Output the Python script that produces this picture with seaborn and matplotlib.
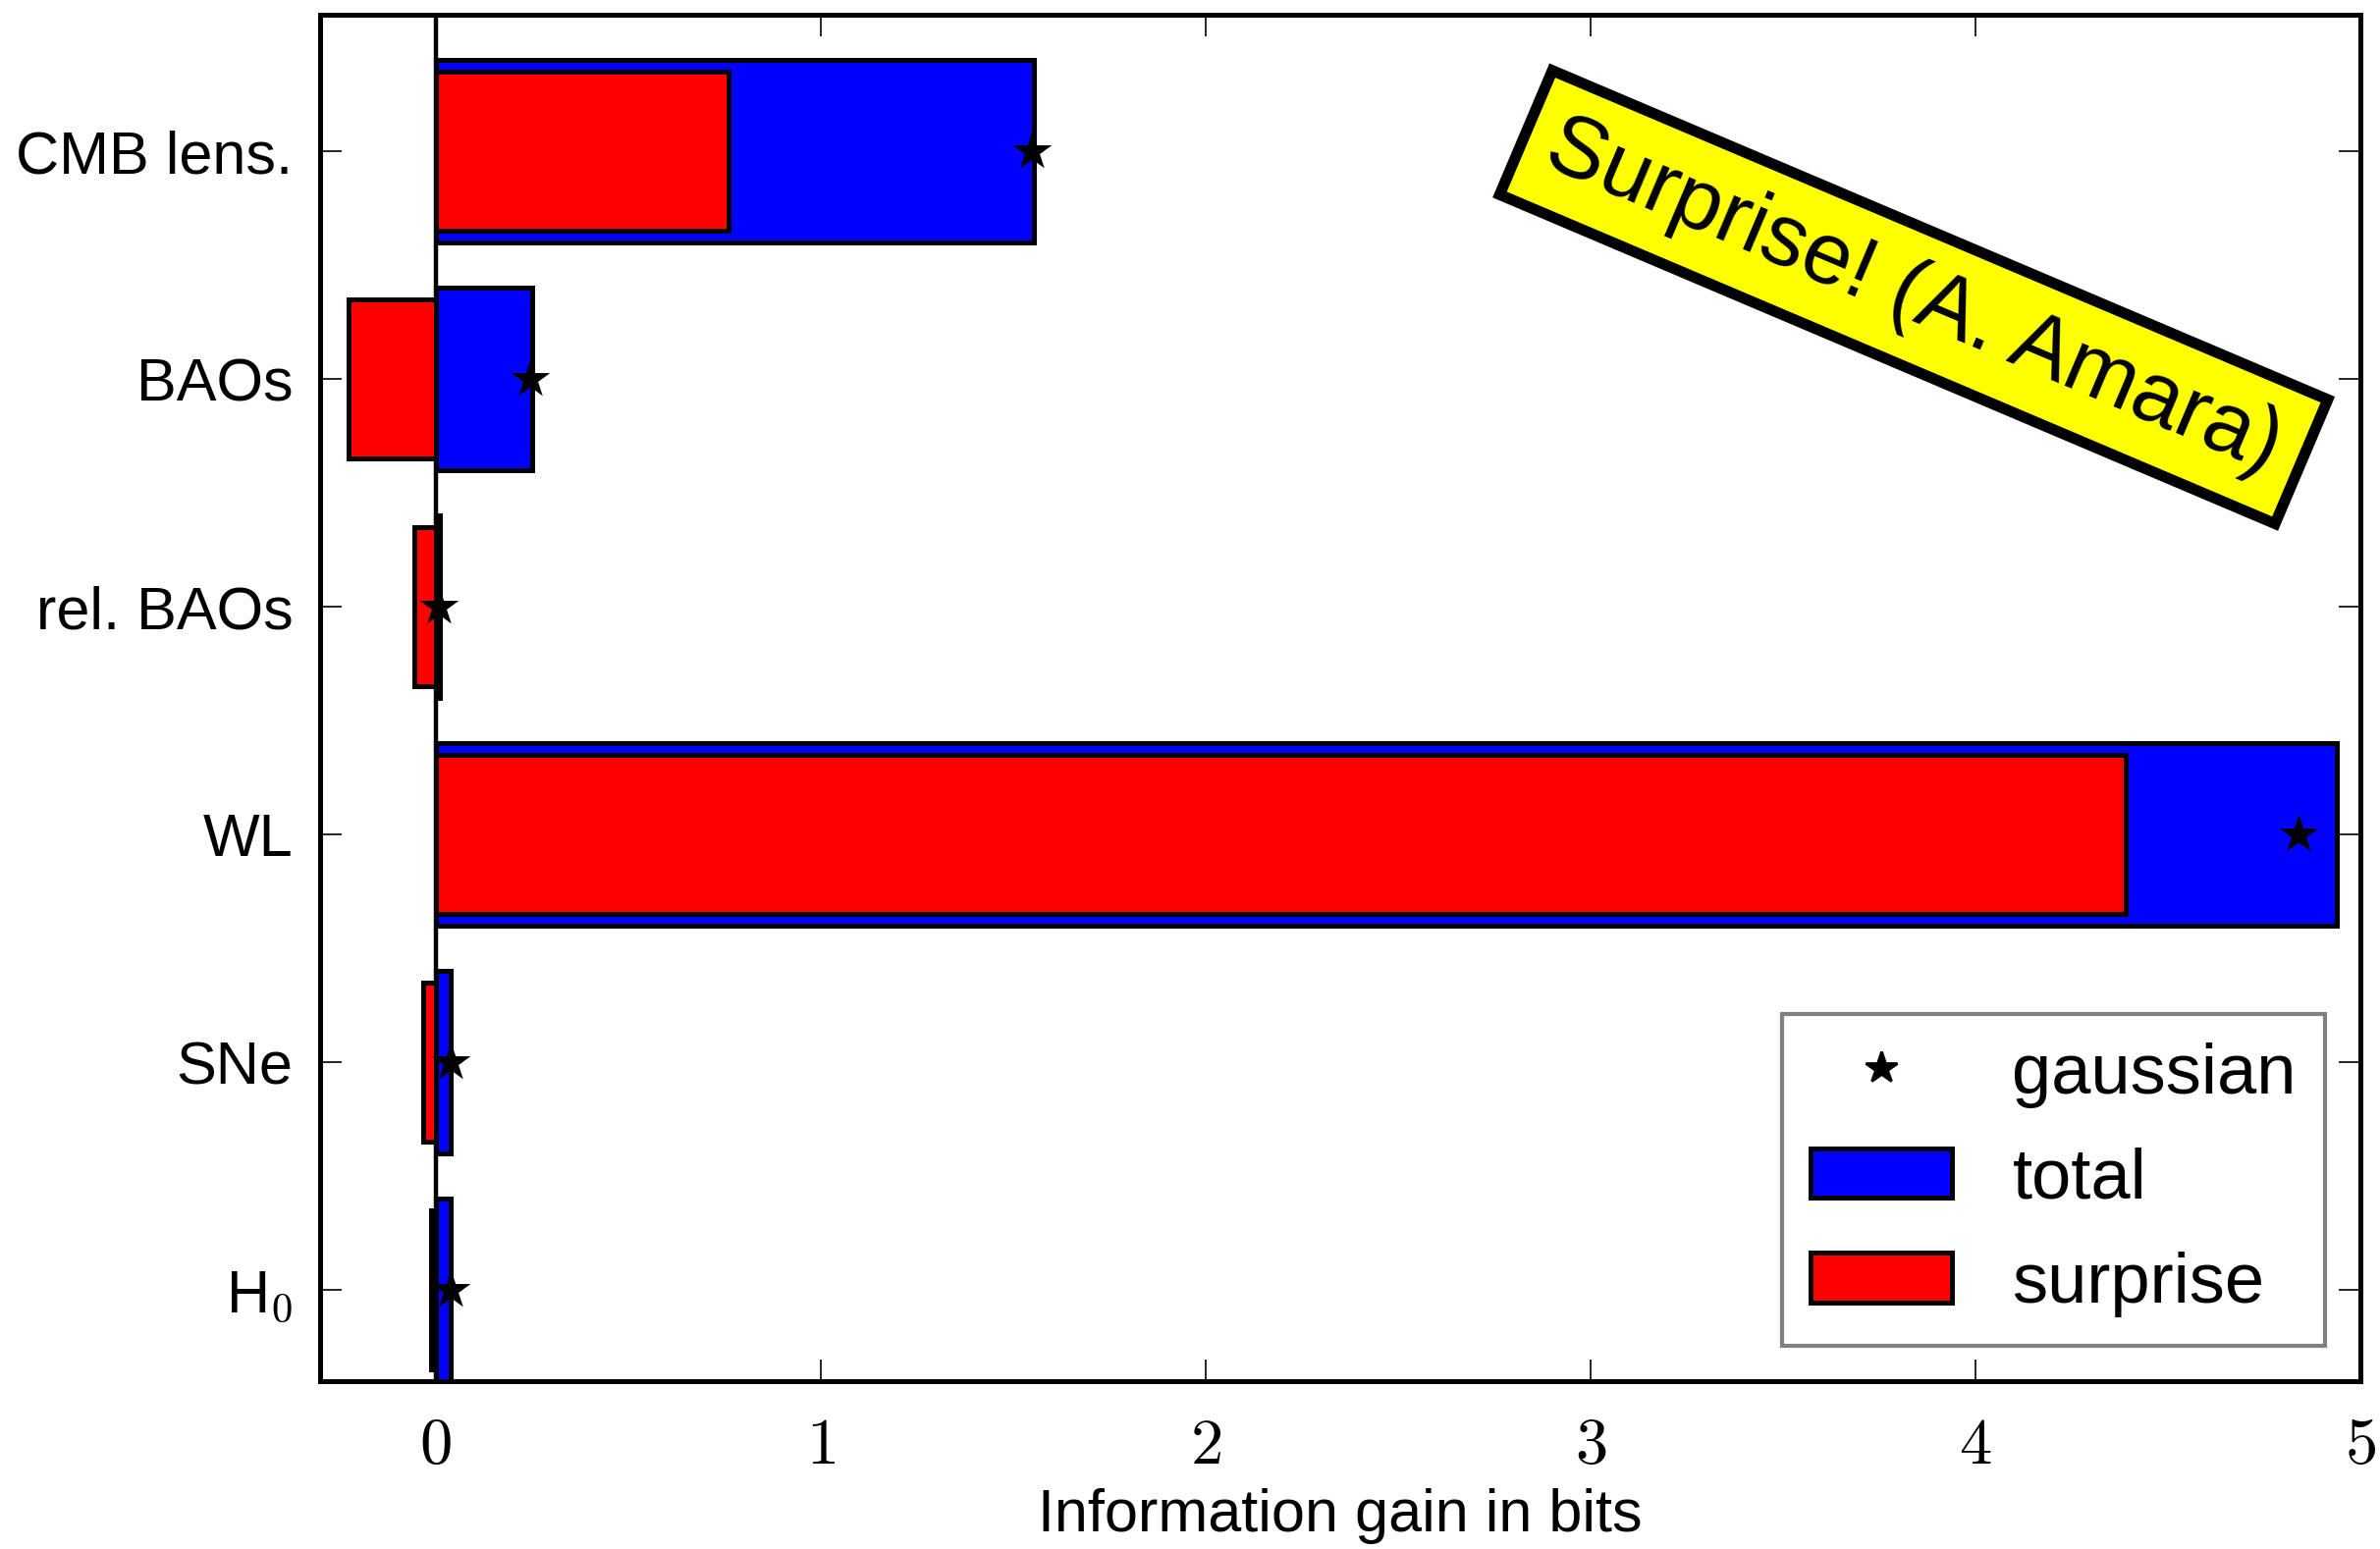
import matplotlib
matplotlib.use("Agg")
import matplotlib.pyplot as plt
from matplotlib.ticker import FuncFormatter
from matplotlib.patches import Patch
from matplotlib.lines import Line2D
import seaborn as sns

# data
probes = ["CMB lens.", "BAOs", "rel. BAOs", "WL", "SNe", "H$_0$"]
total = [1.555, 0.25, 0.012, 4.94, 0.04, 0.04]
surprise = [0.762, -0.225, -0.055, 4.39, -0.033, -0.012]
gaussian = [1.55, 0.245, 0.008, 4.84, 0.038, 0.038]

sns.set_style("ticks")
plt.rcParams["font.family"] = ["Liberation Sans", "DejaVu Sans"]
plt.rcParams["mathtext.fontset"] = "cm"
for key in ["text.color", "axes.labelcolor", "xtick.color", "ytick.color", "axes.edgecolor"]:
    plt.rcParams[key] = "black"

fig, ax = plt.subplots(figsize=(12.12, 7.89), dpi=200)
fig.subplots_adjust(left=0.1345, right=0.9917, top=0.9905, bottom=0.1084)

ax.axvline(0, color="black", lw=1.6, zorder=0)

sns.barplot(x=total, y=probes, orient="h", color="blue", saturation=1,
            width=0.8, edgecolor="black", linewidth=1.8, errorbar=None, ax=ax)
sns.barplot(x=surprise, y=probes, orient="h", color="red", saturation=1,
            width=0.7, edgecolor="black", linewidth=1.8, errorbar=None, ax=ax)
sns.stripplot(x=gaussian, y=probes, orient="h", jitter=False, marker="*",
              size=15, color="black", linewidth=0, ax=ax, zorder=5)

ax.set_xlim(-0.3, 5)
ax.set_ylim(5.4, -0.6)
ax.set_xticks(range(6))
ax.xaxis.set_major_formatter(FuncFormatter(lambda v, p: f"${int(v)}$"))
ax.tick_params(axis="x", labelsize=24, pad=13)
ax.tick_params(axis="y", labelsize=22, pad=10)
ax.tick_params(direction="in", length=8, width=0.6, top=True, right=True)
for s in ax.spines.values():
    s.set_linewidth(1.8)
    s.set_visible(True)

ax.set_xlabel("Information gain in bits", fontsize=22, labelpad=4)
ax.set_ylabel("")

ax.text(3.84, 0.64, "Surprise! (A. Amara)", fontsize=32, rotation=-23,
        rotation_mode="anchor", ha="center", va="center",
        bbox=dict(boxstyle="square,pad=0.3", fc="yellow", ec="black", lw=4))

handles = [
    Line2D([], [], ls="", marker="*", color="black", markersize=12),
    Patch(facecolor="blue", edgecolor="black", linewidth=1.8),
    Patch(facecolor="red", edgecolor="black", linewidth=1.8),
]
leg = ax.legend(handles, ["gaussian", "total", "surprise"], loc="lower right",
                fontsize=26, fancybox=False, framealpha=1, edgecolor="gray",
                handlelength=2.0, handletextpad=0.85, labelspacing=0.55,
                borderpad=0.4)
leg.get_frame().set_linewidth(1.5)

fig.savefig("out.png", dpi=200)
